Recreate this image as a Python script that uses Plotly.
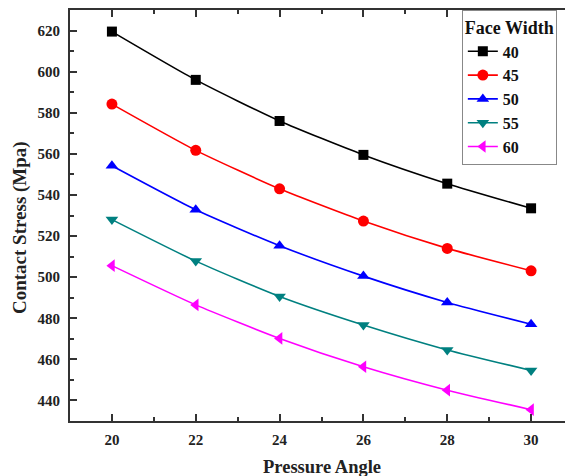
import plotly.graph_objects as go

pressure_angle = [20, 22, 24, 26, 28, 30]
face_widths = ["40", "45", "50", "55", "60"]
stress_40 = [619.5, 596.0, 576.0, 559.5, 545.5, 533.5]
stress_45 = [584.2, 561.7, 543.0, 527.3, 514.0, 503.1]
stress_50 = [554.2, 532.8, 515.3, 500.5, 487.7, 477.1]
stress_55 = [528.0, 507.8, 490.6, 476.7, 464.6, 454.6]
stress_60 = [505.6, 486.5, 470.2, 456.4, 445.0, 435.5]

series = [stress_40, stress_45, stress_50, stress_55, stress_60]
colors = ["#000000", "#FF0000", "#0000FF", "#008080", "#FF00FF"]
symbols = ["square", "circle", "triangle-up", "triangle-down", "triangle-left"]
marker_sizes = [10, 11, 11, 11, 11]

FONT = "Liberation Serif"

fig = go.Figure()
for name, ys, c, s, ms in zip(face_widths, series, colors, symbols, marker_sizes):
    fig.add_trace(go.Scatter(
        x=pressure_angle, y=ys, name=name, mode="lines+markers",
        line=dict(color=c, width=1.6, shape="spline", smoothing=0.6),
        marker=dict(symbol=s, size=ms, color=c),
    ))

# invisible trace for right-side ticks (no line)
fig.add_trace(go.Scatter(x=[pressure_angle[0]], y=[stress_40[0]], yaxis="y2",
                         mode="markers", marker=dict(opacity=0), showlegend=False,
                         hoverinfo="skip"))

tickfont = dict(family=FONT, size=15, color="#222222", weight="bold")
fig.update_layout(
    width=565, height=468,
    margin=dict(l=62, r=0, t=2, b=55),
    plot_bgcolor="white", paper_bgcolor="white",
    showlegend=True,
    xaxis=dict(range=[19, 31], dtick=2, tick0=20, ticks="inside", ticklen=7, tickwidth=2,
               tickcolor="#333333", showline=True, linewidth=2, linecolor="#333333",
               mirror="ticks", showgrid=False, zeroline=False, tickfont=tickfont,
               ticklabelstandoff=4,
               minor=dict(dtick=1, tick0=19, ticks="inside", ticklen=4, tickwidth=2,
                          tickcolor="#333333", showgrid=False)),
    yaxis=dict(range=[430, 630], dtick=20, tick0=440, ticks="inside", ticklen=7, tickwidth=2,
               tickcolor="#333333", showline=True, linewidth=2, linecolor="#333333",
               mirror=False, showgrid=False, zeroline=False, tickfont=tickfont,
               ticklabelstandoff=5,
               minor=dict(dtick=10, tick0=430, ticks="inside", ticklen=4, tickwidth=2,
                          tickcolor="#333333", showgrid=False)),
    yaxis2=dict(range=[430, 630], dtick=20, tick0=440, overlaying="y", side="right",
                ticks="inside", ticklen=7, tickwidth=2, tickcolor="#333333",
                showline=False, showgrid=False, zeroline=False, showticklabels=False,
                minor=dict(dtick=10, tick0=430, ticks="inside", ticklen=4, tickwidth=2,
                           tickcolor="#333333", showgrid=False)),
    legend=dict(x=0.779, y=1, xanchor="left", yanchor="top",
                bgcolor="white", bordercolor="#888888", borderwidth=1,
                font=dict(family=FONT, size=16, color="#111111", weight="bold"),
                title=dict(text="Face Width", side="top",
                           font=dict(family=FONT, size=18, color="#111111", weight="bold"))),
    annotations=[
        dict(text="Contact Stress (Mpa)", xref="paper", yref="paper", x=-0.099, y=0.47,
             xanchor="center", yanchor="middle", textangle=-90, showarrow=False,
             font=dict(family=FONT, size=19, color="#222222", weight="bold")),
        dict(text="Pressure Angle", xref="paper", yref="paper", x=0.5, y=-0.113,
             xanchor="center", yanchor="middle", showarrow=False,
             font=dict(family=FONT, size=18.5, color="#222222", weight="bold")),
    ],
)

fig.write_html("out.html")
